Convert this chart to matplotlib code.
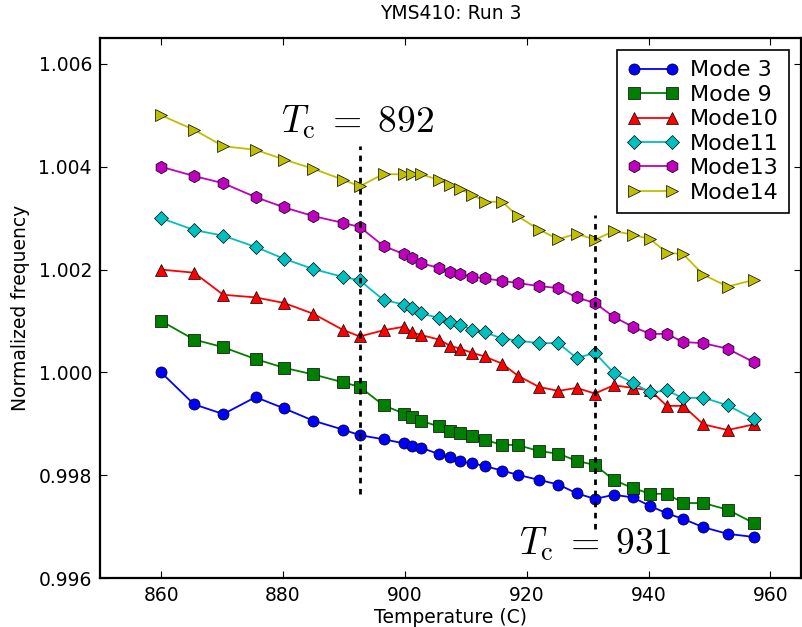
import matplotlib
matplotlib.use('Agg')
import matplotlib.pyplot as plt
from matplotlib.ticker import FormatStrFormatter

plt.rcParams['mathtext.fontset'] = 'cm'
plt.rcParams['font.family'] = ['DejaVu Sans']

# Temperatures (C)
temp = [860.0, 865.4, 870.2, 875.5, 880.2, 885.0, 889.8, 892.6, 896.5, 899.9,
        901.1, 902.6, 905.6, 907.4, 909.1, 911.1, 913.1, 916.0, 918.5, 922.0,
        925.2, 928.2, 931.2, 934.3, 937.4, 940.3, 943.0, 945.7, 949.0, 953.0,
        957.3]

mode3 = [1.00000, 0.99938, 0.99919, 0.99952, 0.99930, 0.99906, 0.99889, 0.99878,
         0.99870, 0.99862, 0.99857, 0.99854, 0.99841, 0.99835, 0.99827, 0.99823,
         0.99818, 0.99809, 0.99801, 0.99791, 0.99782, 0.99765, 0.99754, 0.99762,
         0.99757, 0.99740, 0.99726, 0.99715, 0.99699, 0.99686, 0.99680]

mode9 = [1.00100, 1.00064, 1.00049, 1.00026, 1.00009, 0.99996, 0.99981, 0.99972,
         0.99936, 0.99920, 0.99914, 0.99906, 0.99895, 0.99886, 0.99882, 0.99877,
         0.99869, 0.99859, 0.99859, 0.99847, 0.99842, 0.99828, 0.99820, 0.99791,
         0.99775, 0.99764, 0.99764, 0.99746, 0.99746, 0.99733, 0.99707]

mode10 = [1.00200, 1.00194, 1.00151, 1.00146, 1.00135, 1.00114, 1.00083, 1.00070,
          1.00082, 1.00089, 1.00078, 1.00073, 1.00064, 1.00052, 1.00046, 1.00038,
          1.00031, 1.00017, 0.99994, 0.99972, 0.99964, 0.99970, 0.99959, 0.99975,
          0.99970, 0.99965, 0.99935, 0.99935, 0.99899, 0.99888, 0.99899]

mode11 = [1.00300, 1.00277, 1.00266, 1.00244, 1.00221, 1.00201, 1.00186, 1.00179,
          1.00141, 1.00132, 1.00125, 1.00115, 1.00106, 1.00099, 1.00092, 1.00083,
          1.00078, 1.00066, 1.00062, 1.00057, 1.00057, 1.00028, 1.00038, 0.99999,
          0.99980, 0.99961, 0.99965, 0.99950, 0.99951, 0.99936, 0.99909]

mode13 = [1.00400, 1.00382, 1.00368, 1.00341, 1.00321, 1.00304, 1.00291, 1.00283,
          1.00246, 1.00230, 1.00223, 1.00213, 1.00203, 1.00196, 1.00191, 1.00186,
          1.00183, 1.00178, 1.00174, 1.00168, 1.00164, 1.00146, 1.00135, 1.00108,
          1.00089, 1.00075, 1.00075, 1.00059, 1.00057, 1.00046, 1.00020]

mode14 = [1.00500, 1.00472, 1.00440, 1.00433, 1.00414, 1.00396, 1.00375, 1.00362,
          1.00386, 1.00385, 1.00386, 1.00386, 1.00374, 1.00364, 1.00356, 1.00346,
          1.00332, 1.00332, 1.00304, 1.00278, 1.00259, 1.00270, 1.00258, 1.00275,
          1.00268, 1.00259, 1.00233, 1.00230, 1.00190, 1.00167, 1.00180]

# Transition temperatures and the span of their marker lines
tc = [892.6, 931.2]
tc_labels = ['892', '931']
tc_spans = [(0.99764, 1.00441), (0.99696, 1.00306)]

fig = plt.figure(figsize=(8.02, 6.27), dpi=100)
ax = fig.add_axes([0.125, 0.078, 0.8735, 0.861])

series = [
    (mode3, 'Mode 3', 'b', 'o', 8),
    (mode9, 'Mode 9', 'g', 's', 8),
    (mode10, 'Mode10', 'r', '^', 8.5),
    (mode11, 'Mode11', 'c', 'D', 7),
    (mode13, 'Mode13', 'm', 'h', 9),
    (mode14, 'Mode14', 'y', '>', 8.5),
]
for vals, lab, col, mk, ms in series:
    ax.plot(temp, vals, color=col, marker=mk, markersize=ms, lw=1.3,
            markeredgecolor='k', markeredgewidth=0.5, label=lab)

for t, (lo, hi) in zip(tc, tc_spans):
    ax.plot([t, t], [lo, hi], color='k', lw=2, linestyle=(0, (2, 2)))

ax.text(tc[0] - 0.3, 1.00451, r'$T_\mathrm{c}\;=\;%s$' % tc_labels[0],
        fontsize=27, ha='center', va='bottom')
ax.text(tc[1], 0.99629, r'$T_\mathrm{c}\;=\;%s$' % tc_labels[1],
        fontsize=27, ha='center', va='bottom')

ax.set_xlim(850, 965)
ax.set_ylim(0.996, 1.0065)
ax.set_xticks([860, 880, 900, 920, 940, 960])
ax.set_yticks([0.996, 0.998, 1.000, 1.002, 1.004, 1.006])
ax.yaxis.set_major_formatter(FormatStrFormatter('%.3f'))
ax.tick_params(direction='in', top=True, right=True, labelsize=13.5,
               length=5, pad=6)
for s in ax.spines.values():
    s.set_linewidth(1.6)

ax.set_title('YMS410: Run 3', fontsize=13.5, pad=14)
ax.set_xlabel('Temperature (C)', fontsize=13.5, labelpad=2)
ax.set_ylabel('Normalized frequency', fontsize=13.5, labelpad=6)

leg = ax.legend(loc='upper right', numpoints=2, fontsize=16, fancybox=False,
                framealpha=1, edgecolor='k', handlelength=2.3,
                labelspacing=0.2, borderaxespad=0.55, handletextpad=0.5,
                borderpad=0.45)
leg.get_frame().set_linewidth(1.2)

plt.savefig('out.png', dpi=100)
